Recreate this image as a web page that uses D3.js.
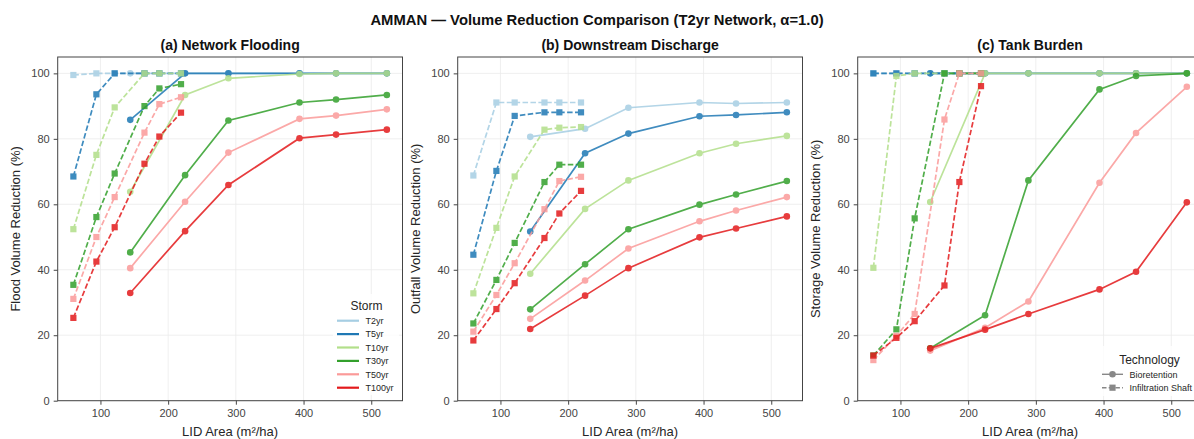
<!DOCTYPE html>
<html><head><meta charset="utf-8">
<script src="https://cdn.jsdelivr.net/npm/d3@7"></script>
<style>
body{margin:0;background:#fff;}
svg{display:block;font-family:"Liberation Sans",Arial,Helvetica,sans-serif;}
</style></head>
<body><svg id="chart" width="1194" height="439"></svg>
<script>
// ---- data ----
const storms = ["T2yr","T5yr","T10yr","T30yr","T50yr","T100yr"];
const stormColors = ["#a6cee3","#1f78b4","#b2df8a","#33a02c","#fb9a99","#e31a1c"];
const xBio = [144, 225, 289, 394, 448, 523];
const xShaft = [60, 94, 121, 165, 187, 219];
const xTicks = [100, 200, 300, 400, 500];
const yTicks = [0, 20, 40, 60, 80, 100];

// rows follow storms order
const floodBio = [
  [100,100,100,100,100,100],
  [85.8,100,100,100,100,100],
  [63.8,93.4,98.5,99.8,100,100],
  [45.3,68.9,85.6,91.1,92.0,93.4],
  [40.5,60.8,75.8,86.1,87.1,89.0],
  [32.9,51.8,65.9,80.2,81.3,82.8]
];
const floodShaft = [
  [99.5,100,100,100,100,100],
  [68.5,93.6,100,100,100,100],
  [52.4,75.1,89.6,100,100,100],
  [35.4,56.1,69.4,90.0,95.4,96.7],
  [31.1,50.0,62.2,81.9,90.6,92.7],
  [25.3,42.5,53.0,72.4,80.7,88.0]
];
const outfallBio = [
  [80.6,83.1,89.5,91.1,90.8,91.1],
  [51.7,75.6,81.6,86.9,87.3,88.1],
  [38.8,58.6,67.3,75.6,78.5,80.9],
  [27.9,41.7,52.4,59.9,63.0,67.1],
  [25.0,36.7,46.5,54.8,58.1,62.2],
  [21.9,32.1,40.5,49.9,52.6,56.3]
];
const outfallShaft = [
  [68.8,91.1,91.1,91.1,91.1,91.1],
  [44.6,70.2,87.0,88.1,88.1,88.1],
  [32.8,52.8,68.5,82.8,83.4,83.6],
  [23.6,36.9,48.2,66.8,72.1,72.1],
  [21.1,32.3,42.0,58.5,67.1,68.4],
  [18.4,28.0,35.9,49.7,57.2,64.1]
];
const storageBio = [
  [100,100,100,100,100,100],
  [100,100,100,100,100,100],
  [60.7,100,100,100,100,100],
  [16.0,26.1,67.3,95.1,99.2,100],
  [15.3,22.3,30.3,66.6,81.8,95.9],
  [16.0,21.7,26.5,34.0,39.4,60.6]
];
const storageShaft = [
  [100,100,100,100,100,100],
  [100,100,100,100,100,100],
  [40.6,99.2,100,100,100,100],
  [13.8,21.8,55.7,100,100,100],
  [12.4,19.8,26.5,85.9,100,100],
  [13.8,19.2,24.3,35.2,66.8,96.1]
];
const panelTitles = ["(a) Network Flooding","(b) Downstream Discharge","(c) Tank Burden"];
const yLabels = ["Flood Volume Reduction (%)","Outfall Volume Reduction (%)","Storage Volume Reduction (%)"];
const xLabel = "LID Area (m\u00b2/ha)";
const mainTitle = "AMMAN \u2014 Volume Reduction Comparison (T2yr Network, \u03b1=1.0)";
const techNames = ["Bioretention","Infiltration Shaft"];

// ---- drawing ----
const svg = d3.select("#chart");
svg.append("rect").attr("width",1194).attr("height",439).attr("fill","#fff");
const txt = "#262626";
const panelLefts = [57.7, 457.7, 857.7];
const pw = 344.8, topY = 57, bottomY = 400.7;
const panels = [[floodBio, floodShaft],[outfallBio, outfallShaft],[storageBio, storageShaft]];
const sq = 6.2;

svg.append("text").attr("x",597).attr("y",25).attr("text-anchor","middle")
  .attr("font-size",14.8).attr("font-weight","bold").attr("fill","#111").text(mainTitle);

panels.forEach((pd, pi) => {
  const L = panelLefts[pi];
  const x = d3.scaleLinear().domain([36.85, 546.15]).range([L, L + pw]);
  const y = d3.scaleLinear().domain([0, 105]).range([bottomY, topY]);
  const g = svg.append("g");
  // grid
  g.selectAll(".gx").data(xTicks).join("line").attr("x1",d=>x(d)).attr("x2",d=>x(d))
    .attr("y1",topY).attr("y2",bottomY).attr("stroke","#ebebeb").attr("stroke-width",0.8);
  g.selectAll(".gy").data(yTicks).join("line").attr("y1",d=>y(d)).attr("y2",d=>y(d))
    .attr("x1",L).attr("x2",L+pw).attr("stroke","#ebebeb").attr("stroke-width",0.8);
  // axes
  const ax = g.append("g").attr("transform",`translate(0,${bottomY})`)
    .call(d3.axisBottom(x).tickValues(xTicks).tickSize(4).tickPadding(5).tickSizeOuter(0));
  const ay = g.append("g").attr("transform",`translate(${L},0)`)
    .call(d3.axisLeft(y).tickValues(yTicks).tickSize(4).tickPadding(4).tickSizeOuter(0));
  [ax, ay].forEach(a => {
    a.select(".domain").remove();
    a.selectAll("line").attr("stroke","#444");
    a.selectAll("text").attr("font-size",11).attr("fill","#444")
      .attr("font-family","Liberation Sans, Arial, sans-serif");
  });
  // series
  const clipId = "clip"+pi;
  svg.append("clipPath").attr("id",clipId).append("rect")
    .attr("x",L).attr("y",topY).attr("width",pw).attr("height",bottomY-topY);
  const plot = g.append("g").attr("clip-path",`url(#${clipId})`);
  const line = d3.line().x(d=>x(d[0])).y(d=>y(d[1]));
  storms.forEach((s, si) => {
    const col = stormColors[si];
    const bio = xBio.map((xv,i)=>[xv, pd[0][si][i]]);
    const sh = xShaft.map((xv,i)=>[xv, pd[1][si][i]]);
    const sg = plot.append("g").attr("opacity",0.85);
    sg.append("path").datum(bio).attr("d",line).attr("fill","none").attr("stroke",col).attr("stroke-width",1.7);
    sg.selectAll(".c").data(bio).join("circle").attr("cx",d=>x(d[0])).attr("cy",d=>y(d[1]))
      .attr("r",3.3).attr("fill",col);
    const sg2 = plot.append("g").attr("opacity",0.85);
    sg2.append("path").datum(sh).attr("d",line).attr("fill","none").attr("stroke",col)
      .attr("stroke-width",1.7).attr("stroke-dasharray","5.5,2.4");
    sg2.selectAll(".s").data(sh).join("rect").attr("x",d=>x(d[0])-sq/2).attr("y",d=>y(d[1])-sq/2)
      .attr("width",sq).attr("height",sq).attr("fill",col);
  });
  // frame
  g.append("rect").attr("x",L).attr("y",topY).attr("width",pw).attr("height",bottomY-topY)
    .attr("fill","none").attr("stroke","#444").attr("stroke-width",1);
  // titles
  g.append("text").attr("x",L+pw/2).attr("y",50).attr("text-anchor","middle")
    .attr("font-size",14).attr("font-weight","bold").attr("fill","#111").text(panelTitles[pi]);
  g.append("text").attr("x",L+pw/2).attr("y",436).attr("text-anchor","middle")
    .attr("font-size",13).attr("fill",txt).text(xLabel);
  g.append("text").attr("transform",`translate(${L-37.5},${(topY+bottomY)/2}) rotate(-90)`)
    .attr("text-anchor","middle").attr("font-size",13).attr("fill",txt).text(yLabels[pi]);
});

// Storm legend (panel a)
{
  const lg = svg.append("g");
  lg.append("rect").attr("x",333).attr("y",294).attr("width",66).attr("height",101)
    .attr("fill","#fff").attr("opacity",0.8);
  lg.append("text").attr("x",366.5).attr("y",310).attr("text-anchor","middle")
    .attr("font-size",12).attr("fill",txt).text("Storm");
  storms.forEach((s, i) => {
    const yy = 320.7 + i*13.4;
    lg.append("line").attr("x1",337).attr("x2",359).attr("y1",yy).attr("y2",yy)
      .attr("stroke",stormColors[i]).attr("stroke-width",2.2);
    lg.append("text").attr("x",365.5).attr("y",yy+3.2).attr("font-size",9).attr("fill",txt).text(s);
  });
}
// Technology legend (panel c)
{
  const lg = svg.append("g");
  lg.append("rect").attr("x",1098).attr("y",346).attr("width",100).attr("height",50)
    .attr("fill","#fff").attr("opacity",0.8);
  lg.append("text").attr("x",1149.5).attr("y",364).attr("text-anchor","middle")
    .attr("font-size",12).attr("fill",txt).text("Technology");
  techNames.forEach((t, i) => {
    const yy = 374.3 + i*13.4;
    lg.append("line").attr("x1",1102).attr("x2",1123).attr("y1",yy).attr("y2",yy)
      .attr("stroke","#888").attr("stroke-width",1.4).attr("stroke-dasharray", i ? "4.5,2.2" : null);
    if (i === 0) lg.append("circle").attr("cx",1112.5).attr("cy",yy).attr("r",3.3).attr("fill","#888");
    else lg.append("rect").attr("x",1112.5-sq/2).attr("y",yy-sq/2).attr("width",sq).attr("height",sq).attr("fill","#888");
    lg.append("text").attr("x",1129.5).attr("y",yy+3.2).attr("font-size",9).attr("fill",txt).text(t);
  });
}
</script></body></html>
